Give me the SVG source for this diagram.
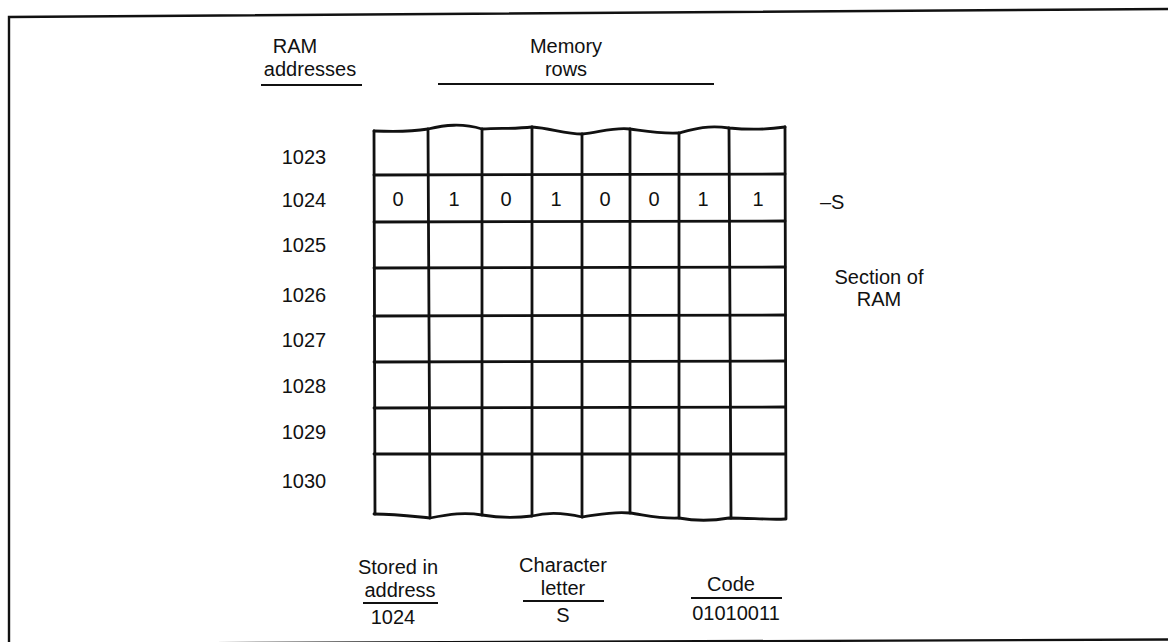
<svg xmlns="http://www.w3.org/2000/svg" width="1168" height="642" viewBox="0 0 1168 642">
<style>
text{font-family:"Liberation Sans",Arial,sans-serif;font-size:20px;fill:#111;text-anchor:middle;dominant-baseline:central}
.g{fill:none;stroke:#111;stroke-width:2.8;stroke-linejoin:round;stroke-linecap:round}
.u{fill:none;stroke:#111;stroke-width:2.2}
.f{fill:none;stroke:#111;stroke-width:2.4}
</style>
<rect width="1168" height="642" fill="#fff"/>
<g id="frame">
<path class="f" d="M9,643 L9,17 L1168,9"/>
<path class="f" d="M9,644 L1168,639.5"/>
</g>
<g id="headers">
<text x="295" y="46">RAM</text>
<text x="310" y="69">addresses</text>
<line class="u" x1="261" y1="85" x2="362" y2="85"/>
<text x="566" y="46">Memory</text>
<text x="566" y="69">rows</text>
<line class="u" x1="438" y1="84" x2="714" y2="84"/>
</g>
<g id="grid">
<path class="g" d="M374,131 C395,132 410,132 428,129 C445,125 462,123 482,129 C500,128 515,129 532,127 C550,128 565,134 582,134 C600,132 615,127 630,129 C645,131 660,134 679,133 C694,129 707,125 729,128 C750,130 765,130 785,127"/>
<path class="g" d="M374,514 C395,514 410,516 430,518 C450,514 465,512 482,515 C500,518 515,518 532,516 C548,512 565,513 582,517 C598,515 612,511 630,513 C645,515 660,519 679,518 C695,521 712,521 729,518 C750,518 770,520 785,519"/>
<path class="g" d="M374,131 L375,514 M428,129 L430,518 M482,129 L482,515 M532,127 L532,516 M582,134 L582,517 M630,129 L630,513 M679,133 L679,518 M729,128 L731,518 M785,127 L786,519"/>
<path class="g" d="M374,175 L785,174 M374,222 L785,221 M374,268 L785,267 M374,316 L785,315 M374,362 L785,361 M374,408 L785,407 M374,454 L785,454"/>
</g>
<g id="addresses">
<text x="304" y="157">1023</text>
<text x="304" y="200">1024</text>
<text x="304" y="245">1025</text>
<text x="304" y="295">1026</text>
<text x="304" y="340">1027</text>
<text x="304" y="386">1028</text>
<text x="304" y="432">1029</text>
<text x="304" y="481">1030</text>
</g>
<g id="bits">
<text x="398" y="199">0</text>
<text x="454" y="199">1</text>
<text x="506" y="199">0</text>
<text x="556" y="199">1</text>
<text x="605" y="199">0</text>
<text x="654" y="199">0</text>
<text x="703" y="199">1</text>
<text x="758" y="199">1</text>
</g>
<g id="side">
<text x="820" y="202" style="text-anchor:start">–S</text>
<text x="879" y="277">Section of</text>
<text x="879" y="299">RAM</text>
</g>
<g id="legend">
<text x="398" y="567">Stored in</text>
<text x="400" y="590">address</text>
<line class="u" x1="363" y1="603" x2="438" y2="603"/>
<text x="393" y="617">1024</text>
<text x="563" y="565">Character</text>
<text x="563" y="588">letter</text>
<line class="u" x1="523" y1="601" x2="604" y2="601"/>
<text x="563" y="615">S</text>
<text x="731" y="584">Code</text>
<line class="u" x1="691" y1="598" x2="782" y2="598"/>
<text x="736" y="613">01010011</text>
</g>
</svg>
